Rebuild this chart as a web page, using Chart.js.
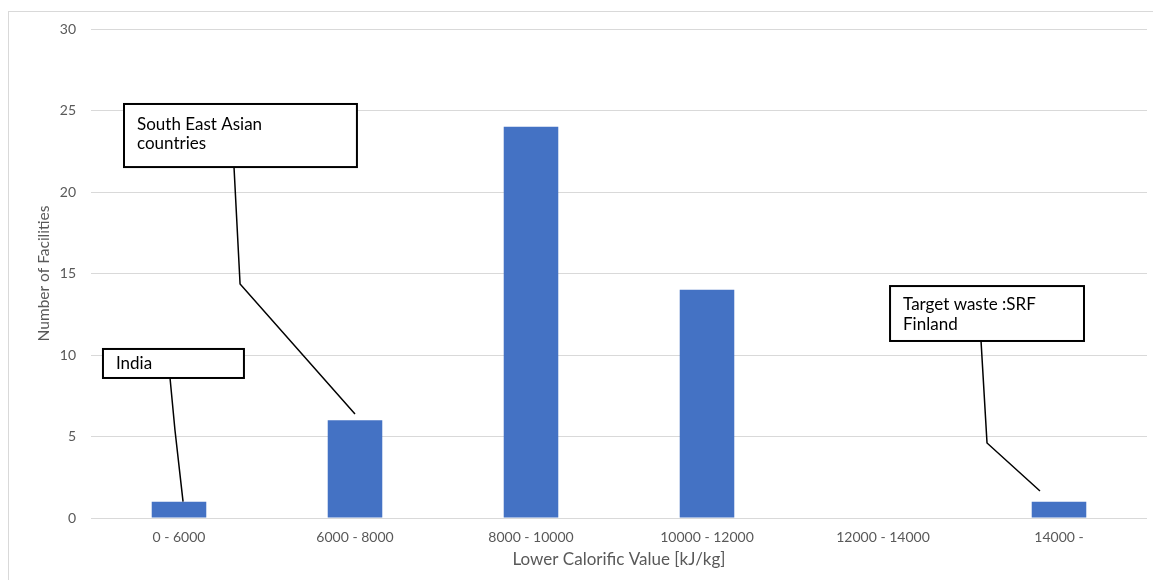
<!DOCTYPE html>
<html lang="en">
<head>
    <meta charset="UTF-8">
    <title>Lower Calorific Value - Facilities</title>
    <script src="https://cdn.jsdelivr.net/npm/chart.js"></script>
    <style>
        html, body { margin: 0; padding: 0; background: #fff; }
        #wrap { width: 1153px; height: 580px; }
    </style>
</head>
<body>
    <div id="wrap"><canvas id="lcvChart" width="1153" height="580"></canvas></div>
    <script>
        const categories = ['0 - 6000', '6000 - 8000', '8000 - 10000', '10000 - 12000', '12000 - 14000', '14000 -'];
        const facilities = [1, 6, 24, 14, 0, 1];
        const yTicks = [0, 5, 10, 15, 20, 25, 30];

        // callout boxes, in category index / value units
        const callouts = [
            { lines: ['India'], box: [-0.432, 0.369, 10.37, 8.59], path: [[-0.051, 8.59], [-0.023, 5.4], [0.023, 1.0]] },
            { lines: ['South East Asian', 'countries'], box: [-0.3125, 1.011, 25.4, 21.53], path: [[0.3125, 21.53], [0.347, 14.36], [1.0, 6.38]] },
            { lines: ['Target waste :SRF', 'Finland'], box: [4.04, 5.142, 14.23, 10.86], path: [[4.557, 10.86], [4.591, 4.6], [4.892, 1.66]] }
        ];
        const textOffsets = [[15, 13, 19], [21, 13, 19], [18, 13, 20]]; // top, left, line height

        const FONT = 'Lato, "Liberation Sans", sans-serif';

        const frame = {
            id: 'frame',
            beforeDraw(chart) {
                const c = chart.ctx;
                c.save();
                c.fillStyle = '#fff';
                c.fillRect(0, 0, chart.width, chart.height);
                c.strokeStyle = '#d9d9d9';
                c.lineWidth = 1;
                c.strokeRect(8.5, 11.5, chart.width, chart.height);
                c.restore();
            }
        };

        const calloutPlugin = {
            id: 'callouts',
            afterDatasetsDraw(chart) {
                const c = chart.ctx;
                const xs = chart.scales.x, ys = chart.scales.y;
                const step = xs.getPixelForValue(1) - xs.getPixelForValue(0);
                const px = v => xs.getPixelForValue(0) + v * step;
                const py = v => ys.getPixelForValue(v);
                c.save();
                callouts.forEach((co, k) => {
                    c.strokeStyle = '#000';
                    c.lineWidth = 1.5;
                    c.beginPath();
                    co.path.forEach((p, i) => {
                        if (i === 0) c.moveTo(px(p[0]), py(p[1]));
                        else c.lineTo(px(p[0]), py(p[1]));
                    });
                    c.stroke();
                    const x0 = px(co.box[0]), x1 = px(co.box[1]);
                    const y0 = py(co.box[2]), y1 = py(co.box[3]);
                    c.fillStyle = '#fff';
                    c.fillRect(x0, y0, x1 - x0, y1 - y0);
                    c.lineWidth = 2;
                    c.strokeRect(x0, y0, x1 - x0, y1 - y0);
                    c.fillStyle = '#000';
                    c.font = '17px ' + FONT;
                    c.textBaseline = 'middle';
                    c.textAlign = 'left';
                    const [top, left, lh] = textOffsets[k];
                    co.lines.forEach((t, i) => {
                        c.fillText(t, x0 + left, y0 + top + i * lh);
                    });
                });
                c.restore();
            }
        };

        new Chart(document.getElementById('lcvChart'), {
            type: 'bar',
            data: {
                labels: categories,
                datasets: [{
                    data: facilities,
                    backgroundColor: '#4472C4',
                    barPercentage: 0.31,
                    categoryPercentage: 1.0
                }]
            },
            options: {
                responsive: false,
                animation: false,
                layout: { padding: { top: 29, right: 6, left: 0, bottom: 0 } },
                plugins: {
                    legend: { display: false },
                    tooltip: { enabled: false }
                },
                scales: {
                    x: {
                        grid: { display: false, drawTicks: false },
                        border: { display: false },
                        ticks: { color: '#595959', font: { family: FONT, size: 14 }, padding: 11, maxRotation: 0 },
                        title: {
                            display: true,
                            text: 'Lower Calorific Value [kJ/kg]',
                            color: '#595959',
                            font: { family: FONT, size: 17 },
                            padding: { top: 0, bottom: 10 }
                        },
                        afterFit(scale) { scale.height = 62; }
                    },
                    y: {
                        min: 0,
                        max: 30,
                        afterBuildTicks(scale) { scale.ticks = yTicks.map(v => ({ value: v })); },
                        grid: { color: '#d9d9d9', drawTicks: false },
                        border: { display: false },
                        ticks: { color: '#595959', font: { family: FONT, size: 14 }, padding: 15 },
                        title: {
                            display: true,
                            text: 'Number of Facilities',
                            color: '#595959',
                            font: { family: FONT, size: 15.5 },
                            padding: { top: 35, bottom: 0 }
                        },
                        afterFit(scale) { scale.width = 91; }
                    }
                }
            },
            plugins: [frame, calloutPlugin]
        });
    </script>
</body>
</html>
